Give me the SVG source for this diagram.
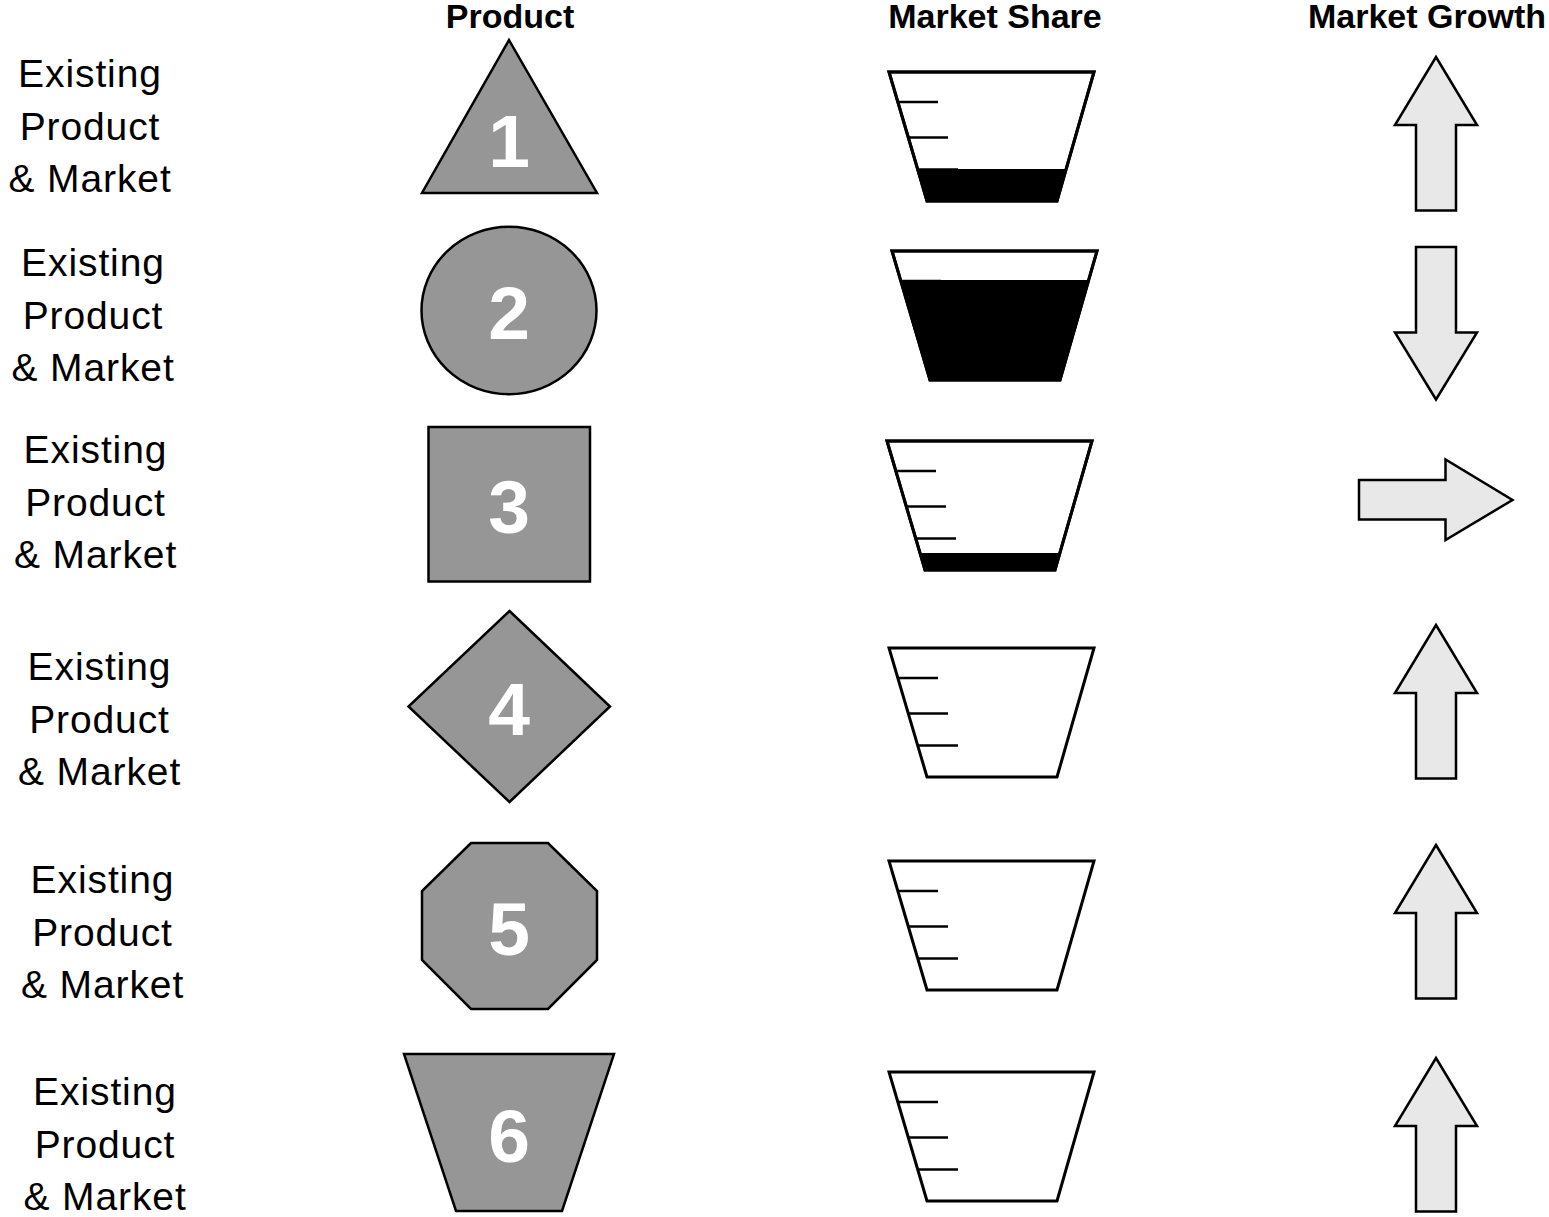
<svg xmlns="http://www.w3.org/2000/svg" width="1549" height="1217" viewBox="0 0 1549 1217">
<style>
.hdr{font-family:"Liberation Sans",Arial,sans-serif;font-weight:bold;font-size:34px;fill:#000;text-anchor:middle}
.lbl{font-family:"Liberation Sans",Arial,sans-serif;font-size:39px;letter-spacing:0.9px;fill:#000;text-anchor:middle}
.num{font-family:"Liberation Sans",Arial,sans-serif;font-weight:bold;font-size:75px;fill:#fff;text-anchor:middle}
.shape{fill:#969696;stroke:#000;stroke-width:2.5}
.cup{fill:#fff;stroke:#000;stroke-width:3;stroke-linejoin:miter}
.cupo{fill:none;stroke:#000;stroke-width:3}
.tick{stroke:#000;stroke-width:2.5}
.liq{fill:#000}
.arr{fill:#e8e8e8;stroke:#000;stroke-width:2.5}
</style>
<defs>
<g id="cupT">
<polygon class="cup" points="0,0 205,0 168,129 38,129"/>
<line class="tick" x1="8.8" y1="30" x2="49" y2="30"/>
<line class="tick" x1="19.3" y1="65.5" x2="59" y2="65.5"/>
<line class="tick" x1="28.7" y1="97.5" x2="69" y2="97.5"/>
</g>
<polygon id="upT" class="arr" points="0,0 41,68 20,68 20,153.5 -20,153.5 -20,68 -41,68"/>
</defs>

<g id="headers">
<text class="hdr" x="510" y="28">Product</text>
<text class="hdr" x="995" y="28">Market Share</text>
<text class="hdr" x="1427" y="28">Market Growth</text>
</g>

<g id="labels">
<text class="lbl" x="90" y="87">Existing</text><text class="lbl" x="90" y="139.5">Product</text><text class="lbl" x="90" y="192">&amp; Market</text>
<text class="lbl" x="93" y="276">Existing</text><text class="lbl" x="93" y="328.5">Product</text><text class="lbl" x="93" y="381">&amp; Market</text>
<text class="lbl" x="95.5" y="463">Existing</text><text class="lbl" x="95.5" y="515.5">Product</text><text class="lbl" x="95.5" y="568">&amp; Market</text>
<text class="lbl" x="99.5" y="680">Existing</text><text class="lbl" x="99.5" y="732.5">Product</text><text class="lbl" x="99.5" y="785">&amp; Market</text>
<text class="lbl" x="102.5" y="893">Existing</text><text class="lbl" x="102.5" y="945.5">Product</text><text class="lbl" x="102.5" y="998">&amp; Market</text>
<text class="lbl" x="105" y="1105">Existing</text><text class="lbl" x="105" y="1157.5">Product</text><text class="lbl" x="105" y="1210">&amp; Market</text>
</g>

<g id="product1">
<polygon class="shape" points="509,40 597,193 422,193"/>
<text class="num" x="509" y="167">1</text>
</g>
<g id="product2">
<ellipse class="shape" cx="509" cy="310.5" rx="87.5" ry="83.7"/>
<text class="num" x="509" y="339">2</text>
</g>
<g id="product3">
<rect class="shape" x="428.5" y="427" width="161.5" height="154.5"/>
<text class="num" x="509" y="533">3</text>
</g>
<g id="product4">
<polygon class="shape" points="509.5,611 610,706.5 509.5,802 408.5,706.5"/>
<text class="num" x="509" y="735">4</text>
</g>
<g id="product5">
<polygon class="shape" points="471,843 548,843 597,891 597,960 548,1009 471,1009 422,960 422,891"/>
<text class="num" x="509" y="955">5</text>
</g>
<g id="product6">
<polygon class="shape" points="404,1054 614,1054 562,1211 456,1211"/>
<text class="num" x="509" y="1162">6</text>
</g>

<g id="share1" transform="translate(889,72)">
<use href="#cupT"/>
<polygon class="liq" points="28.6,97 177.2,97 168,129 38,129"/>
<polygon class="cupo" points="0,0 205,0 168,129 38,129"/>
</g>
<g id="share2" transform="translate(892,251)">
<use href="#cupT"/>
<polygon class="liq" points="8.5,29 196.7,29 168,129 38,129"/>
<polygon class="cupo" points="0,0 205,0 168,129 38,129"/>
</g>
<g id="share3" transform="translate(887,441)">
<use href="#cupT"/>
<polygon class="liq" points="33,112 172.9,112 168,129 38,129"/>
<polygon class="cupo" points="0,0 205,0 168,129 38,129"/>
</g>
<g id="share4" transform="translate(889,648)"><use href="#cupT"/></g>
<g id="share5" transform="translate(889,861)"><use href="#cupT"/></g>
<g id="share6" transform="translate(889,1072)"><use href="#cupT"/></g>

<g id="growth1"><use href="#upT" transform="translate(1436,57)"/></g>
<g id="growth2"><polygon class="arr" points="1416,247 1456,247 1456,332.5 1477,332.5 1436,399.5 1395,332.5 1416,332.5"/></g>
<g id="growth3"><polygon class="arr" points="1359,480 1445.5,480 1445.5,459.5 1512.5,500 1445.5,540 1445.5,519.5 1359,519.5"/></g>
<g id="growth4"><use href="#upT" transform="translate(1436,625)"/></g>
<g id="growth5"><use href="#upT" transform="translate(1436,845)"/></g>
<g id="growth6"><use href="#upT" transform="translate(1436,1058)"/></g>
<g id="connectors"/>
</svg>
